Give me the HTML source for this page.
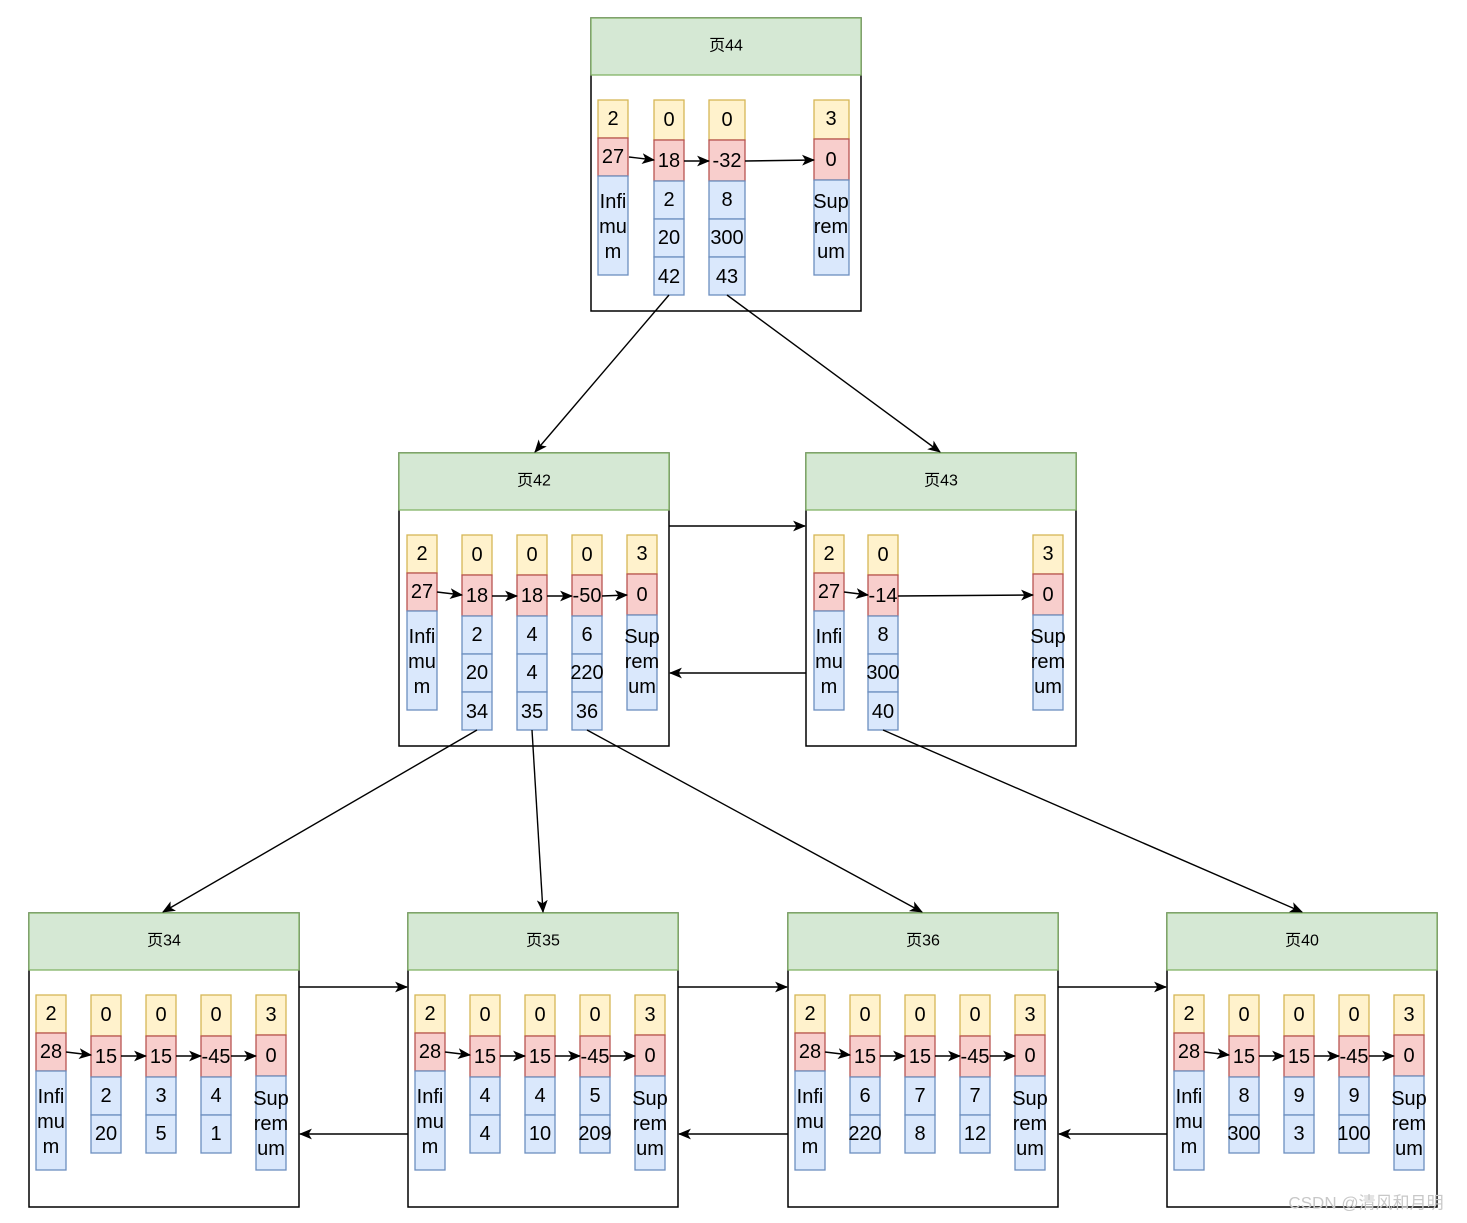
<!DOCTYPE html>
<html><head><meta charset="utf-8"><style>
html,body{margin:0;padding:0;background:#fff;}
svg{display:block;}
.y{fill:#fff2cc;stroke:#d6b656;stroke-width:1.3}
.r{fill:#f8cecc;stroke:#b85450;stroke-width:1.3}
.b{fill:#dae8fc;stroke:#6c8ebf;stroke-width:1.3}
.h{fill:#d5e8d4;stroke:#82b366;stroke-width:1.3}
.pg{fill:#fff;stroke:#000;stroke-width:1.5}
text{font-family:"Liberation Sans","Noto Sans CJK SC",sans-serif;font-size:20px;text-anchor:middle;dominant-baseline:central;fill:#000}
text.t{font-size:16px}
.ln{stroke:#000;stroke-width:1.4;fill:none}
</style></head><body>
<svg width="1467" height="1223" viewBox="0 0 1467 1223" xmlns="http://www.w3.org/2000/svg">
<defs>
<marker id="a" viewBox="0 0 12 10" refX="11" refY="5" markerWidth="13" markerHeight="11" markerUnits="userSpaceOnUse" orient="auto">
<path d="M0,0 L12,5 L0,10 L3,5 Z" fill="#000"/></marker>
</defs>

<!-- Page 44 -->
<g transform="translate(591,18)">
<rect class="pg" x="0" y="0" width="270" height="293"/>
<rect class="h" x="0" y="0" width="270" height="57"/>
<text class="t" x="135" y="28">页44</text>
<rect class="y" x="7" y="82" width="30" height="38"/><text x="22" y="101">2</text>
<rect class="r" x="7" y="120" width="30" height="38"/><text x="22" y="139">27</text>
<rect class="b" x="7" y="158" width="30" height="99"/><text x="22" y="184">Infi</text><text x="22" y="209">mu</text><text x="22" y="234">m</text>
<rect class="y" x="63" y="82" width="30" height="40"/><text x="78" y="102">0</text>
<rect class="r" x="63" y="122" width="30" height="41"/><text x="78" y="143">18</text>
<rect class="b" x="63" y="163" width="30" height="38"/><text x="78" y="182">2</text>
<rect class="b" x="63" y="201" width="30" height="38"/><text x="78" y="220">20</text>
<rect class="b" x="63" y="239" width="30" height="38"/><text x="78" y="259">42</text>
<rect class="y" x="118" y="82" width="36" height="40"/><text x="136" y="102">0</text>
<rect class="r" x="118" y="122" width="36" height="41"/><text x="136" y="143">-32</text>
<rect class="b" x="118" y="163" width="36" height="38"/><text x="136" y="182">8</text>
<rect class="b" x="118" y="201" width="36" height="38"/><text x="136" y="220">300</text>
<rect class="b" x="118" y="239" width="36" height="38"/><text x="136" y="259">43</text>
<rect class="y" x="223" y="82" width="35" height="39"/><text x="240" y="101">3</text>
<rect class="r" x="223" y="121" width="35" height="41"/><text x="240" y="142">0</text>
<rect class="b" x="223" y="162" width="35" height="95"/><text x="240" y="184">Sup</text><text x="240" y="209">rem</text><text x="240" y="234">um</text>
<line class="ln" x1="38" y1="139" x2="63" y2="142" marker-end="url(#a)"/>
<line class="ln" x1="93" y1="143" x2="118" y2="143" marker-end="url(#a)"/>
<line class="ln" x1="154" y1="143" x2="223" y2="142" marker-end="url(#a)"/>
</g>

<!-- Page 42 -->
<g transform="translate(399,453)">
<rect class="pg" x="0" y="0" width="270" height="293"/>
<rect class="h" x="0" y="0" width="270" height="57"/>
<text class="t" x="135" y="28">页42</text>
<rect class="y" x="8" y="82" width="30" height="38"/><text x="23" y="101">2</text>
<rect class="r" x="8" y="120" width="30" height="38"/><text x="23" y="139">27</text>
<rect class="b" x="8" y="158" width="30" height="99"/><text x="23" y="184">Infi</text><text x="23" y="209">mu</text><text x="23" y="234">m</text>
<rect class="y" x="63" y="82" width="30" height="40"/><text x="78" y="102">0</text>
<rect class="r" x="63" y="122" width="30" height="41"/><text x="78" y="143">18</text>
<rect class="b" x="63" y="163" width="30" height="38"/><text x="78" y="182">2</text>
<rect class="b" x="63" y="201" width="30" height="38"/><text x="78" y="220">20</text>
<rect class="b" x="63" y="239" width="30" height="38"/><text x="78" y="259">34</text>
<rect class="y" x="118" y="82" width="30" height="40"/><text x="133" y="102">0</text>
<rect class="r" x="118" y="122" width="30" height="41"/><text x="133" y="143">18</text>
<rect class="b" x="118" y="163" width="30" height="38"/><text x="133" y="182">4</text>
<rect class="b" x="118" y="201" width="30" height="38"/><text x="133" y="220">4</text>
<rect class="b" x="118" y="239" width="30" height="38"/><text x="133" y="259">35</text>
<rect class="y" x="173" y="82" width="30" height="40"/><text x="188" y="102">0</text>
<rect class="r" x="173" y="122" width="30" height="41"/><text x="188" y="143">-50</text>
<rect class="b" x="173" y="163" width="30" height="38"/><text x="188" y="182">6</text>
<rect class="b" x="173" y="201" width="30" height="38"/><text x="188" y="220">220</text>
<rect class="b" x="173" y="239" width="30" height="38"/><text x="188" y="259">36</text>
<rect class="y" x="228" y="82" width="30" height="39"/><text x="243" y="101">3</text>
<rect class="r" x="228" y="121" width="30" height="41"/><text x="243" y="142">0</text>
<rect class="b" x="228" y="162" width="30" height="95"/><text x="243" y="184">Sup</text><text x="243" y="209">rem</text><text x="243" y="234">um</text>
<line class="ln" x1="38" y1="139" x2="63" y2="142" marker-end="url(#a)"/>
<line class="ln" x1="93" y1="143" x2="118" y2="143" marker-end="url(#a)"/>
<line class="ln" x1="148" y1="143" x2="173" y2="143" marker-end="url(#a)"/>
<line class="ln" x1="203" y1="143" x2="228" y2="142" marker-end="url(#a)"/>
</g>

<!-- Page 43 -->
<g transform="translate(806,453)">
<rect class="pg" x="0" y="0" width="270" height="293"/>
<rect class="h" x="0" y="0" width="270" height="57"/>
<text class="t" x="135" y="28">页43</text>
<rect class="y" x="8" y="82" width="30" height="38"/><text x="23" y="101">2</text>
<rect class="r" x="8" y="120" width="30" height="38"/><text x="23" y="139">27</text>
<rect class="b" x="8" y="158" width="30" height="99"/><text x="23" y="184">Infi</text><text x="23" y="209">mu</text><text x="23" y="234">m</text>
<rect class="y" x="62" y="82" width="30" height="40"/><text x="77" y="102">0</text>
<rect class="r" x="62" y="122" width="30" height="41"/><text x="77" y="143">-14</text>
<rect class="b" x="62" y="163" width="30" height="38"/><text x="77" y="182">8</text>
<rect class="b" x="62" y="201" width="30" height="38"/><text x="77" y="220">300</text>
<rect class="b" x="62" y="239" width="30" height="38"/><text x="77" y="259">40</text>
<rect class="y" x="227" y="82" width="30" height="39"/><text x="242" y="101">3</text>
<rect class="r" x="227" y="121" width="30" height="41"/><text x="242" y="142">0</text>
<rect class="b" x="227" y="162" width="30" height="95"/><text x="242" y="184">Sup</text><text x="242" y="209">rem</text><text x="242" y="234">um</text>
<line class="ln" x1="38" y1="139" x2="62" y2="142" marker-end="url(#a)"/>
<line class="ln" x1="92" y1="143" x2="227" y2="142" marker-end="url(#a)"/>
</g>

<!-- Bottom pages -->
<g transform="translate(29,913)">
<rect class="pg" x="0" y="0" width="270" height="294"/>
<rect class="h" x="0" y="0" width="270" height="57"/>
<text class="t" x="135" y="28">页34</text>
<rect class="y" x="7" y="82" width="30" height="38"/><text x="22" y="101">2</text>
<rect class="r" x="7" y="120" width="30" height="38"/><text x="22" y="139">28</text>
<rect class="b" x="7" y="158" width="30" height="99"/><text x="22" y="184">Infi</text><text x="22" y="209">mu</text><text x="22" y="234">m</text>
<rect class="y" x="62" y="82" width="30" height="41"/><text x="77" y="102">0</text>
<rect class="r" x="62" y="123" width="30" height="41"/><text x="77" y="144">15</text>
<rect class="b" x="62" y="164" width="30" height="38"/><text x="77" y="183">2</text>
<rect class="b" x="62" y="202" width="30" height="38"/><text x="77" y="221">20</text>
<rect class="y" x="117" y="82" width="30" height="41"/><text x="132" y="102">0</text>
<rect class="r" x="117" y="123" width="30" height="41"/><text x="132" y="144">15</text>
<rect class="b" x="117" y="164" width="30" height="38"/><text x="132" y="183">3</text>
<rect class="b" x="117" y="202" width="30" height="38"/><text x="132" y="221">5</text>
<rect class="y" x="172" y="82" width="30" height="41"/><text x="187" y="102">0</text>
<rect class="r" x="172" y="123" width="30" height="41"/><text x="187" y="144">-45</text>
<rect class="b" x="172" y="164" width="30" height="38"/><text x="187" y="183">4</text>
<rect class="b" x="172" y="202" width="30" height="38"/><text x="187" y="221">1</text>
<rect class="y" x="227" y="82" width="30" height="40"/><text x="242" y="102">3</text>
<rect class="r" x="227" y="122" width="30" height="41"/><text x="242" y="143">0</text>
<rect class="b" x="227" y="163" width="30" height="94"/><text x="242" y="186">Sup</text><text x="242" y="211">rem</text><text x="242" y="236">um</text>
<line class="ln" x1="37" y1="139" x2="62" y2="142" marker-end="url(#a)"/>
<line class="ln" x1="92" y1="143" x2="117" y2="143" marker-end="url(#a)"/>
<line class="ln" x1="147" y1="143" x2="172" y2="143" marker-end="url(#a)"/>
<line class="ln" x1="202" y1="143" x2="227" y2="143" marker-end="url(#a)"/>
</g>

<g transform="translate(408,913)">
<rect class="pg" x="0" y="0" width="270" height="294"/>
<rect class="h" x="0" y="0" width="270" height="57"/>
<text class="t" x="135" y="28">页35</text>
<rect class="y" x="7" y="82" width="30" height="38"/><text x="22" y="101">2</text>
<rect class="r" x="7" y="120" width="30" height="38"/><text x="22" y="139">28</text>
<rect class="b" x="7" y="158" width="30" height="99"/><text x="22" y="184">Infi</text><text x="22" y="209">mu</text><text x="22" y="234">m</text>
<rect class="y" x="62" y="82" width="30" height="41"/><text x="77" y="102">0</text>
<rect class="r" x="62" y="123" width="30" height="41"/><text x="77" y="144">15</text>
<rect class="b" x="62" y="164" width="30" height="38"/><text x="77" y="183">4</text>
<rect class="b" x="62" y="202" width="30" height="38"/><text x="77" y="221">4</text>
<rect class="y" x="117" y="82" width="30" height="41"/><text x="132" y="102">0</text>
<rect class="r" x="117" y="123" width="30" height="41"/><text x="132" y="144">15</text>
<rect class="b" x="117" y="164" width="30" height="38"/><text x="132" y="183">4</text>
<rect class="b" x="117" y="202" width="30" height="38"/><text x="132" y="221">10</text>
<rect class="y" x="172" y="82" width="30" height="41"/><text x="187" y="102">0</text>
<rect class="r" x="172" y="123" width="30" height="41"/><text x="187" y="144">-45</text>
<rect class="b" x="172" y="164" width="30" height="38"/><text x="187" y="183">5</text>
<rect class="b" x="172" y="202" width="30" height="38"/><text x="187" y="221">209</text>
<rect class="y" x="227" y="82" width="30" height="40"/><text x="242" y="102">3</text>
<rect class="r" x="227" y="122" width="30" height="41"/><text x="242" y="143">0</text>
<rect class="b" x="227" y="163" width="30" height="94"/><text x="242" y="186">Sup</text><text x="242" y="211">rem</text><text x="242" y="236">um</text>
<line class="ln" x1="37" y1="139" x2="62" y2="142" marker-end="url(#a)"/>
<line class="ln" x1="92" y1="143" x2="117" y2="143" marker-end="url(#a)"/>
<line class="ln" x1="147" y1="143" x2="172" y2="143" marker-end="url(#a)"/>
<line class="ln" x1="202" y1="143" x2="227" y2="143" marker-end="url(#a)"/>
</g>

<g transform="translate(788,913)">
<rect class="pg" x="0" y="0" width="270" height="294"/>
<rect class="h" x="0" y="0" width="270" height="57"/>
<text class="t" x="135" y="28">页36</text>
<rect class="y" x="7" y="82" width="30" height="38"/><text x="22" y="101">2</text>
<rect class="r" x="7" y="120" width="30" height="38"/><text x="22" y="139">28</text>
<rect class="b" x="7" y="158" width="30" height="99"/><text x="22" y="184">Infi</text><text x="22" y="209">mu</text><text x="22" y="234">m</text>
<rect class="y" x="62" y="82" width="30" height="41"/><text x="77" y="102">0</text>
<rect class="r" x="62" y="123" width="30" height="41"/><text x="77" y="144">15</text>
<rect class="b" x="62" y="164" width="30" height="38"/><text x="77" y="183">6</text>
<rect class="b" x="62" y="202" width="30" height="38"/><text x="77" y="221">220</text>
<rect class="y" x="117" y="82" width="30" height="41"/><text x="132" y="102">0</text>
<rect class="r" x="117" y="123" width="30" height="41"/><text x="132" y="144">15</text>
<rect class="b" x="117" y="164" width="30" height="38"/><text x="132" y="183">7</text>
<rect class="b" x="117" y="202" width="30" height="38"/><text x="132" y="221">8</text>
<rect class="y" x="172" y="82" width="30" height="41"/><text x="187" y="102">0</text>
<rect class="r" x="172" y="123" width="30" height="41"/><text x="187" y="144">-45</text>
<rect class="b" x="172" y="164" width="30" height="38"/><text x="187" y="183">7</text>
<rect class="b" x="172" y="202" width="30" height="38"/><text x="187" y="221">12</text>
<rect class="y" x="227" y="82" width="30" height="40"/><text x="242" y="102">3</text>
<rect class="r" x="227" y="122" width="30" height="41"/><text x="242" y="143">0</text>
<rect class="b" x="227" y="163" width="30" height="94"/><text x="242" y="186">Sup</text><text x="242" y="211">rem</text><text x="242" y="236">um</text>
<line class="ln" x1="37" y1="139" x2="62" y2="142" marker-end="url(#a)"/>
<line class="ln" x1="92" y1="143" x2="117" y2="143" marker-end="url(#a)"/>
<line class="ln" x1="147" y1="143" x2="172" y2="143" marker-end="url(#a)"/>
<line class="ln" x1="202" y1="143" x2="227" y2="143" marker-end="url(#a)"/>
</g>

<g transform="translate(1167,913)">
<rect class="pg" x="0" y="0" width="270" height="294"/>
<rect class="h" x="0" y="0" width="270" height="57"/>
<text class="t" x="135" y="28">页40</text>
<rect class="y" x="7" y="82" width="30" height="38"/><text x="22" y="101">2</text>
<rect class="r" x="7" y="120" width="30" height="38"/><text x="22" y="139">28</text>
<rect class="b" x="7" y="158" width="30" height="99"/><text x="22" y="184">Infi</text><text x="22" y="209">mu</text><text x="22" y="234">m</text>
<rect class="y" x="62" y="82" width="30" height="41"/><text x="77" y="102">0</text>
<rect class="r" x="62" y="123" width="30" height="41"/><text x="77" y="144">15</text>
<rect class="b" x="62" y="164" width="30" height="38"/><text x="77" y="183">8</text>
<rect class="b" x="62" y="202" width="30" height="38"/><text x="77" y="221">300</text>
<rect class="y" x="117" y="82" width="30" height="41"/><text x="132" y="102">0</text>
<rect class="r" x="117" y="123" width="30" height="41"/><text x="132" y="144">15</text>
<rect class="b" x="117" y="164" width="30" height="38"/><text x="132" y="183">9</text>
<rect class="b" x="117" y="202" width="30" height="38"/><text x="132" y="221">3</text>
<rect class="y" x="172" y="82" width="30" height="41"/><text x="187" y="102">0</text>
<rect class="r" x="172" y="123" width="30" height="41"/><text x="187" y="144">-45</text>
<rect class="b" x="172" y="164" width="30" height="38"/><text x="187" y="183">9</text>
<rect class="b" x="172" y="202" width="30" height="38"/><text x="187" y="221">100</text>
<rect class="y" x="227" y="82" width="30" height="40"/><text x="242" y="102">3</text>
<rect class="r" x="227" y="122" width="30" height="41"/><text x="242" y="143">0</text>
<rect class="b" x="227" y="163" width="30" height="94"/><text x="242" y="186">Sup</text><text x="242" y="211">rem</text><text x="242" y="236">um</text>
<line class="ln" x1="37" y1="139" x2="62" y2="142" marker-end="url(#a)"/>
<line class="ln" x1="92" y1="143" x2="117" y2="143" marker-end="url(#a)"/>
<line class="ln" x1="147" y1="143" x2="172" y2="143" marker-end="url(#a)"/>
<line class="ln" x1="202" y1="143" x2="227" y2="143" marker-end="url(#a)"/>
</g>

<!-- connectors (on top) -->
<line class="ln" x1="669" y1="295" x2="535" y2="452" marker-end="url(#a)"/>
<line class="ln" x1="727" y1="295" x2="940" y2="452" marker-end="url(#a)"/>
<line class="ln" x1="477" y1="730" x2="163" y2="912" marker-end="url(#a)"/>
<line class="ln" x1="532" y1="730" x2="543" y2="912" marker-end="url(#a)"/>
<line class="ln" x1="587" y1="730" x2="922" y2="912" marker-end="url(#a)"/>
<line class="ln" x1="883" y1="730" x2="1302" y2="912" marker-end="url(#a)"/>

<line class="ln" x1="669" y1="526" x2="805" y2="526" marker-end="url(#a)"/>
<line class="ln" x1="806" y1="673" x2="670" y2="673" marker-end="url(#a)"/>
<line class="ln" x1="299" y1="987" x2="407" y2="987" marker-end="url(#a)"/>
<line class="ln" x1="408" y1="1134" x2="300" y2="1134" marker-end="url(#a)"/>
<line class="ln" x1="678" y1="987" x2="787" y2="987" marker-end="url(#a)"/>
<line class="ln" x1="788" y1="1134" x2="679" y2="1134" marker-end="url(#a)"/>
<line class="ln" x1="1058" y1="987" x2="1166" y2="987" marker-end="url(#a)"/>
<line class="ln" x1="1167" y1="1134" x2="1059" y2="1134" marker-end="url(#a)"/>

<text x="1366" y="1203" style="font-size:17px;fill:#c8c8c8">CSDN @清风和月明</text>
</svg>
</body></html>
